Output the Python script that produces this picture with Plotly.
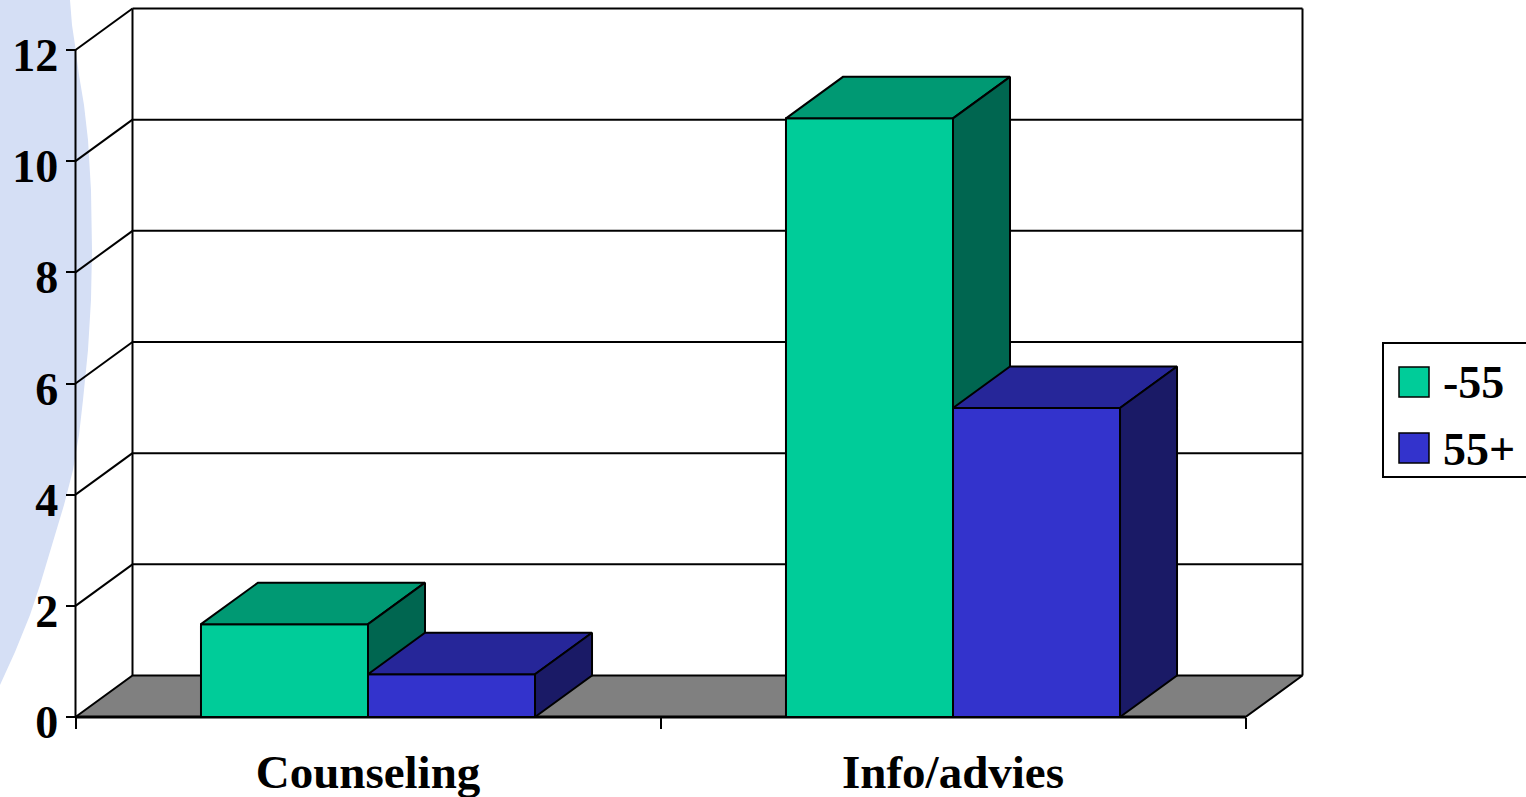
import plotly.graph_objects as go

# ---- data ----
categories = ["Counseling", "Info/advies"]
series_names = ["-55", "55+"]
values_under55 = [1.67, 10.77]
values_55plus = [0.77, 5.56]
y_ticks = [0, 2, 4, 6, 8, 10, 12]

# ---- style ----
W, H = 1526, 797
FONT = dict(family="Liberation Serif, Times New Roman, serif", size=46, color="black", weight="bold")
front_cols = ["#00CC99", "#3333CC"]
top_cols = ["#009973", "#262699"]
side_cols = ["#006650", "#1A1A66"]
FLOOR = "#808080"

# pixel mapping helpers (layout only)
PX_X0, PX_PER_X = 75.5, 585.0      # x=-0.5 at pixel 75.5
PX_Y0, PX_PER_Y = 717.0, 55.583    # y=0 at pixel 717
xr = [(0 - PX_X0) / PX_PER_X - 0.5, (W - PX_X0) / PX_PER_X - 0.5]
yr = [(PX_Y0 - H) / PX_PER_Y, PX_Y0 / PX_PER_Y]
dx = 57 / PX_PER_X
dy = 41.5 / PX_PER_Y
bw = 0.2855
ymax = 12

fig = go.Figure()

def poly(xs, ys, fill, lw=2):
    fig.add_trace(go.Scatter(x=xs + [xs[0]], y=ys + [ys[0]], mode="lines", fill="toself",
                             fillcolor=fill, line=dict(color="black", width=lw),
                             hoverinfo="skip", showlegend=False))

def seg(xs, ys, lw=2):
    fig.add_trace(go.Scatter(x=xs, y=ys, mode="lines", line=dict(color="black", width=lw),
                             hoverinfo="skip", showlegend=False))

xl, xrr = -0.5, len(categories) - 0.5
# floor
poly([xl, xrr, xrr + dx, xl + dx], [0, 0, dy, dy], FLOOR)
seg([xl, xrr], [0, 0], lw=3)
# back wall frame + gridlines
seg([xl + dx, xl + dx], [dy, ymax + dy])
seg([xrr + dx, xrr + dx], [dy, ymax + dy])
for t in y_ticks[1:]:
    seg([xl + dx, xrr + dx], [t + dy, t + dy])
    seg([xl, xl + dx], [t, t + dy])
# front value axis line
seg([xl, xl], [0, ymax])

# bars
for c in range(len(categories)):
    for s, vals in enumerate([values_under55, values_55plus]):
        v = vals[c]
        x0 = c - bw + s * bw
        x1 = x0 + bw
        poly([x0, x1, x1, x0], [0, 0, v, v], front_cols[s])
        poly([x0, x1, x1 + dx, x0 + dx], [v, v, v + dy, v + dy], top_cols[s])
        poly([x1, x1 + dx, x1 + dx, x1], [0, dy, v + dy, v], side_cols[s])

# light blue slide decoration on the left (pixel path)
band = [(0, 0), (70, 0), (72, 25), (75, 45), (79, 75), (84, 105), (88, 140), (91, 190),
        (92, 250), (91, 300), (88, 350), (83, 400), (79, 435), (73, 470), (64, 505),
        (52, 545), (40, 585), (30, 615), (15, 652), (0, 685)]
path = "M " + " L ".join(f"{px / W:.5f},{1 - py / H:.5f}" for px, py in band) + " Z"
shapes = [dict(type="path", path=path, xref="paper", yref="paper", fillcolor="#D5DFF5",
               line=dict(width=0), layer="below")]

# legend (manual)
lx0, ly0, lx1, ly1 = 1383, 343, 1530, 477
shapes.append(dict(type="rect", xref="paper", yref="paper", x0=lx0 / W, x1=lx1 / W,
                   y0=1 - ly1 / H, y1=1 - ly0 / H, line=dict(color="black", width=2),
                   fillcolor="white", layer="above"))
annotations = []
for i, name in enumerate(series_names):
    cy = [382, 448][i]
    shapes.append(dict(type="rect", xref="paper", yref="paper", x0=1399 / W, x1=1429 / W,
                       y0=1 - (cy + 15) / H, y1=1 - (cy - 15) / H,
                       line=dict(color="black", width=1.5), fillcolor=front_cols[i], layer="above"))
    annotations.append(dict(text=name, xref="paper", yref="paper", x=1441 / W, y=1 - (cy + 1) / H,
                            xanchor="left", yanchor="middle", showarrow=False, font=FONT))

fig.update_layout(
    width=W, height=H, autosize=False,
    margin=dict(l=0, r=0, t=0, b=0),
    paper_bgcolor="white", plot_bgcolor="rgba(0,0,0,0)",
    showlegend=False, shapes=shapes, annotations=annotations,
    xaxis=dict(range=xr, domain=[0, 1], anchor="free", position=1 - PX_Y0 / H,
               showgrid=False, zeroline=False, showline=False,
               tickmode="array", tickvals=list(range(len(categories))), ticktext=categories,
               ticks="", tickfont=dict(FONT, size=47), ticklabelstandoff=23,
               minor=dict(tickmode="array", tickvals=[xl, 0.5, xrr], ticks="outside",
                          ticklen=11, tickwidth=2, tickcolor="black")),
    yaxis=dict(range=yr, domain=[0, 1], anchor="free", position=PX_X0 / W,
               showgrid=False, zeroline=False, showline=False,
               tickmode="array", tickvals=y_ticks, ticks="outside", ticklen=10,
               tickwidth=2, tickcolor="black", tickfont=FONT,
               ticklabelstandoff=-2, ticklabelshift=5),
)

fig.write_html("out.html")
